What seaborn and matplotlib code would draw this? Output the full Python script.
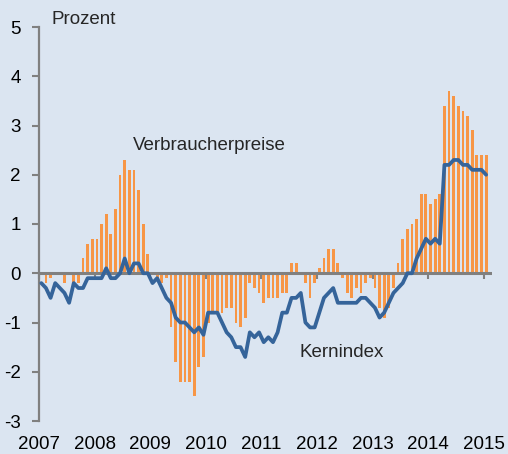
import numpy as np
import pandas as pd
import matplotlib
matplotlib.use("Agg")
import matplotlib.pyplot as plt
import seaborn as sns

# ---- data (monthly, Jan 2007 - Jan 2015) ----
start_year = 2007
years = [2007, 2008, 2009, 2010, 2011, 2012, 2013, 2014, 2015]
y_ticks = [-3, -2, -1, 0, 1, 2, 3, 4, 5]

verbraucherpreise = [
    0.0, -0.2, -0.1, 0.0, 0.0, -0.2, 0.0, -0.2, -0.2, 0.3, 0.6, 0.7,      # 2007
    0.7, 1.0, 1.2, 0.8, 1.3, 2.0, 2.3, 2.1, 2.1, 1.7, 1.0, 0.4,           # 2008
    0.0, -0.1, -0.2, -0.1, -1.1, -1.8, -2.2, -2.2, -2.2, -2.5, -1.9, -1.7,  # 2009
    -1.0, -0.8, -0.8, -0.8, -0.7, -0.7, -1.0, -1.1, -0.9, -0.2, -0.3, -0.4,  # 2010
    -0.6, -0.5, -0.5, -0.5, -0.4, -0.4, 0.2, 0.2, 0.0, -0.2, -0.5, -0.2,  # 2011
    0.1, 0.3, 0.5, 0.5, 0.2, -0.1, -0.4, -0.5, -0.3, -0.4, -0.2, -0.1,    # 2012
    -0.3, -0.7, -0.9, -0.7, -0.3, 0.2, 0.7, 0.9, 1.0, 1.1, 1.6, 1.6,      # 2013
    1.4, 1.5, 1.6, 3.4, 3.7, 3.6, 3.4, 3.3, 3.2, 2.9, 2.4, 2.4,           # 2014
    2.4,                                                                  # 2015
]

kernindex = [
    -0.2, -0.3, -0.5, -0.2, -0.3, -0.4, -0.6, -0.2, -0.3, -0.3, -0.1, -0.1,  # 2007
    -0.1, -0.1, 0.1, -0.1, -0.1, 0.0, 0.3, 0.0, 0.2, 0.2, 0.0, 0.0,         # 2008
    -0.2, -0.1, -0.3, -0.5, -0.6, -0.9, -1.0, -1.0, -1.1, -1.2, -1.1, -1.25,  # 2009
    -0.8, -0.8, -0.8, -1.0, -1.2, -1.3, -1.5, -1.5, -1.7, -1.2, -1.3, -1.2,  # 2010
    -1.4, -1.3, -1.4, -1.2, -0.8, -0.8, -0.5, -0.5, -0.4, -1.0, -1.1, -1.1,  # 2011
    -0.8, -0.5, -0.4, -0.3, -0.6, -0.6, -0.6, -0.6, -0.6, -0.5, -0.5, -0.6,  # 2012
    -0.7, -0.9, -0.8, -0.6, -0.4, -0.3, -0.2, 0.0, 0.0, 0.3, 0.5, 0.7,      # 2013
    0.6, 0.7, 0.6, 2.2, 2.2, 2.3, 2.3, 2.2, 2.2, 2.1, 2.1, 2.1,             # 2014
    2.0,                                                                    # 2015
]

months = np.arange(len(verbraucherpreise))
df = pd.DataFrame({
    "x": start_year + (months + 0.5) / 12.0,
    "Verbraucherpreise": verbraucherpreise,
    "Kernindex": kernindex,
})

# ---- style ----
bg = "#DBE5F1"
orange = "#F79646"
blue = "#35649A"
gray = "#808080"
fs = 13.5

sns.set_style("white", {"axes.facecolor": bg, "figure.facecolor": bg})
plt.rcParams["font.family"] = ["Liberation Sans", "DejaVu Sans"]
plt.rcParams["axes.unicode_minus"] = False

W, H = 508, 454
fig = plt.figure(figsize=(W / 100, H / 100), dpi=100, facecolor=bg)
ax = fig.add_axes([39 / W, 1 - 421 / H, (492 - 39) / W, (421 - 27) / H])
ax.set_facecolor(bg)

sns.barplot(data=df, x="x", y="Verbraucherpreise", native_scale=True,
            width=0.6, color=orange, saturation=1, errorbar=None,
            linewidth=0, edgecolor="none", ax=ax, zorder=1)
ax.axhline(0, color=gray, lw=2.2, zorder=2)
sns.lineplot(data=df, x="x", y="Kernindex", ax=ax, color=blue,
             lw=2.7, zorder=4)

ax.set_xlim(start_year, start_year + (492 - 39) / 55.6)
ax.set_ylim(-3, 5)
ax.set_xlabel("")
ax.set_ylabel("")

# y axis
ax.set_yticks(y_ticks)
ax.set_yticklabels([str(v) for v in y_ticks])
ax.tick_params(axis="y", direction="out", length=5, width=1.5, color=gray,
               labelsize=fs, labelcolor="black", pad=8, left=True)
for s in ["top", "right", "bottom"]:
    ax.spines[s].set_visible(False)
ax.spines["left"].set_color(gray)
ax.spines["left"].set_linewidth(1.6)

# x labels at the bottom, no ticks
ax.set_xticks(years)
ax.set_xticklabels([str(y) for y in years])
ax.tick_params(axis="x", length=0, labelsize=fs, labelcolor="black", pad=11)

# tick marks on the zero line
sec = ax.secondary_xaxis(3 / 8)
sec.set_xticks(years)
sec.tick_params(axis="x", direction="out", length=4, width=1.5, color=gray,
                labelbottom=False)
for s in sec.spines.values():
    s.set_visible(False)

# annotations
ax.text(2007.23, 5.15, "Prozent", fontsize=fs, ha="left", va="center")
ax.text(2008.69, 2.6, "Verbraucherpreise", fontsize=fs, ha="left", va="center")
ax.text(2011.69, -1.6, "Kernindex", fontsize=fs, ha="left", va="center")

leg = ax.get_legend()
if leg is not None:
    leg.remove()

fig.savefig("out.png", dpi=100, facecolor=bg)
